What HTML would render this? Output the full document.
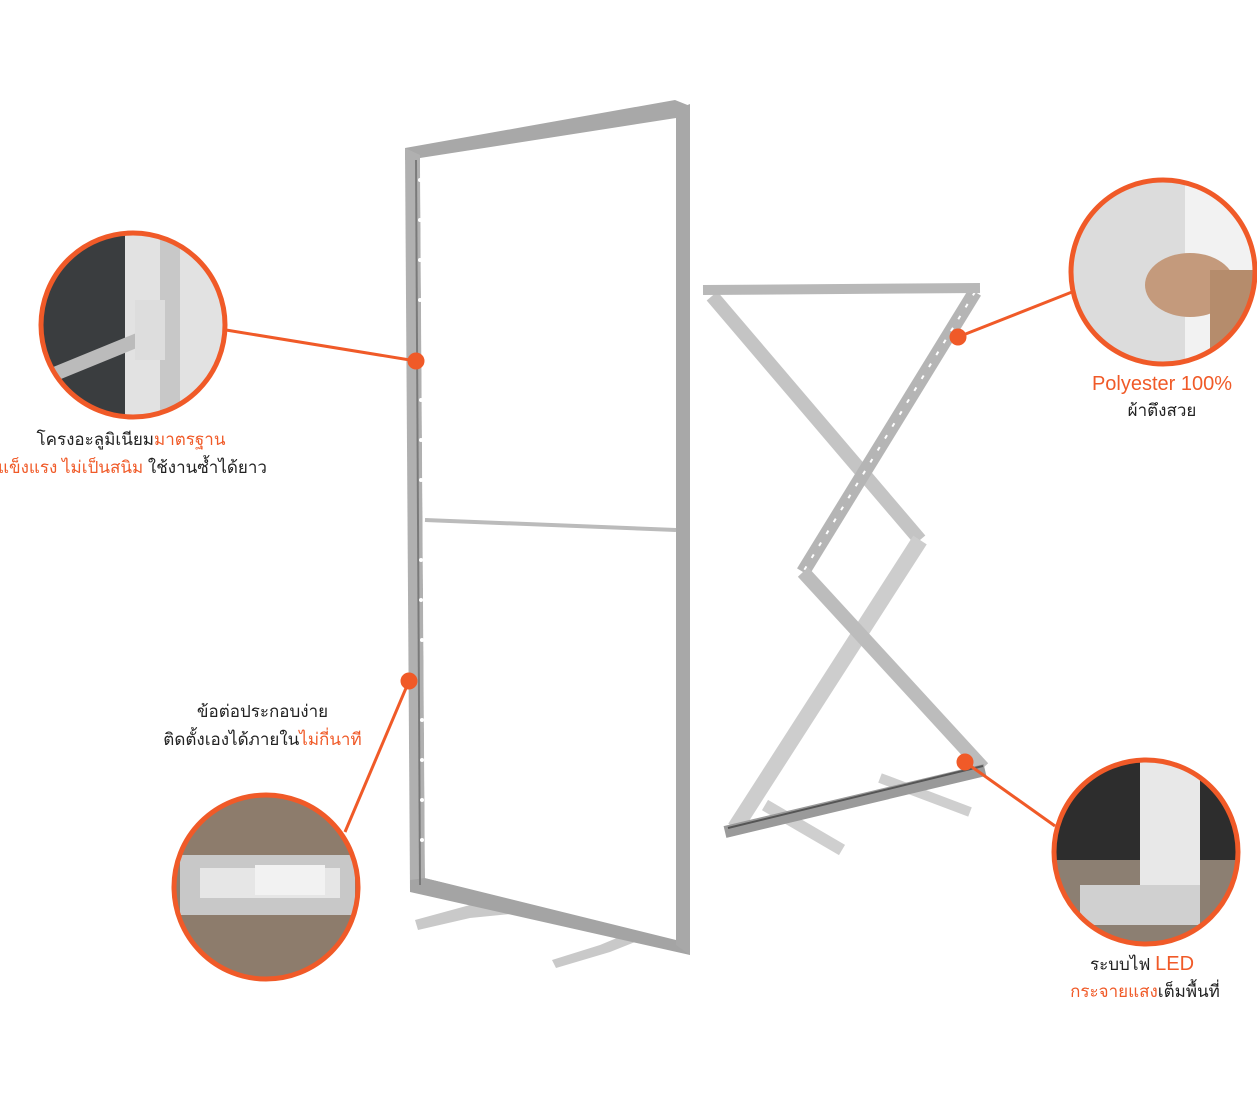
<!DOCTYPE html>
<html><head><meta charset="utf-8"><style>
body{margin:0;background:#fff;width:1257px;height:1095px;overflow:hidden;position:relative;font-family:"Liberation Sans","Noto Sans CJK SC",sans-serif}
.t{position:absolute;font-size:17px;color:#222;white-space:nowrap;text-align:center;line-height:28px}
.o{color:#f05a28}
.e{font-size:20px}
</style></head><body>
<svg width="1257" height="1095" style="position:absolute;left:0;top:0">
<defs>
<clipPath id="c1"><circle cx="133" cy="325" r="92"/></clipPath>
<clipPath id="c2"><circle cx="266" cy="887" r="92"/></clipPath>
<clipPath id="c3"><circle cx="1163" cy="272" r="92"/></clipPath>
<clipPath id="c4"><circle cx="1146" cy="852" r="92"/></clipPath>
</defs>
<polygon points="415,920 470,905 530,900 530,912 470,918 418,930" fill="#c9c9c9"/>
<polygon points="552,960 600,945 665,918 665,930 610,952 556,968" fill="#c9c9c9"/>
<polygon points="405,148 675,100 690,106 690,120 420,160 405,160" fill="#a8a8a8"/>
<polygon points="405,148 420,155 425,880 410,890" fill="#b0b0b0"/>
<polygon points="410,880 425,878 690,940 690,955 410,892" fill="#a4a4a4"/>
<polygon points="675,110 690,104 690,955 676,945" fill="#a8a8a8"/>
<polygon points="420,158 676,118 676,940 425,878" fill="#fff"/>
<line x1="416" y1="160" x2="420" y2="885" stroke="#7a7a7a" stroke-width="2"/>
<line x1="425" y1="520" x2="676" y2="530" stroke="#bbb" stroke-width="4"/>
<g fill="#fff">
<circle cx="420" cy="180" r="2"/><circle cx="420" cy="220" r="2"/><circle cx="420" cy="260" r="2"/><circle cx="420" cy="300" r="2"/><circle cx="421" cy="400" r="2"/><circle cx="421" cy="440" r="2"/><circle cx="421" cy="480" r="2"/><circle cx="421" cy="560" r="2"/><circle cx="421" cy="600" r="2"/><circle cx="422" cy="640" r="2"/><circle cx="422" cy="720" r="2"/><circle cx="422" cy="760" r="2"/><circle cx="422" cy="800" r="2"/><circle cx="422" cy="840" r="2"/></g>
<g stroke-linecap="butt">
<line x1="880" y1="778" x2="970" y2="812" stroke="#cfcfcf" stroke-width="10"/>
<line x1="765" y1="805" x2="842" y2="850" stroke="#cfcfcf" stroke-width="12"/>
<line x1="712" y1="296" x2="920" y2="540" stroke="#c4c4c4" stroke-width="14"/>
<line x1="920" y1="540" x2="735" y2="828" stroke="#cdcdcd" stroke-width="16"/>
<line x1="975" y1="292" x2="803" y2="572" stroke="#b5b5b5" stroke-width="14"/>
<line x1="975" y1="292" x2="803" y2="572" stroke="#fff" stroke-width="2" stroke-dasharray="4 10"/>
<line x1="803" y1="572" x2="983" y2="768" stroke="#bcbcbc" stroke-width="14"/>
<line x1="703" y1="290" x2="980" y2="288" stroke="#b8b8b8" stroke-width="10"/>
<line x1="725" y1="832" x2="985" y2="770" stroke="#9a9a9a" stroke-width="12"/>
<line x1="728" y1="828" x2="983" y2="766" stroke="#555" stroke-width="2"/>
</g>
<g stroke="#f05a28" stroke-width="3" fill="#f05a28">
<line x1="226" y1="330" x2="416" y2="361"/><circle cx="416" cy="361" r="7"/>
<line x1="345" y1="832" x2="409" y2="681"/><circle cx="409" cy="681" r="7"/>
<line x1="1072" y1="292" x2="958" y2="337"/><circle cx="958" cy="337" r="7"/>
<line x1="1055" y1="826" x2="965" y2="762"/><circle cx="965" cy="762" r="7"/>
</g>
<g clip-path="url(#c1)"><rect x="30" y="220" width="210" height="210" fill="#3a3d3f"/>
<rect x="125" y="220" width="110" height="210" fill="#e2e2e2"/><rect x="160" y="220" width="20" height="210" fill="#c8c8c8"/>
<line x1="40" y1="380" x2="150" y2="335" stroke="#bbb" stroke-width="14"/><rect x="135" y="300" width="30" height="60" fill="#ddd"/></g>
<circle cx="133" cy="325" r="92" fill="none" stroke="#f05a28" stroke-width="5"/>
<g clip-path="url(#c2)"><rect x="170" y="790" width="200" height="200" fill="#8d7c6c"/>
<rect x="180" y="855" width="175" height="60" fill="#c8c8c8"/><rect x="200" y="868" width="140" height="30" fill="#e6e6e6"/>
<rect x="255" y="865" width="70" height="30" fill="#f2f2f2"/></g>
<circle cx="266" cy="887" r="92" fill="none" stroke="#f05a28" stroke-width="5"/>
<g clip-path="url(#c3)"><rect x="1065" y="175" width="200" height="200" fill="#dcdcdc"/><rect x="1185" y="175" width="80" height="200" fill="#f2f2f2"/>
<ellipse cx="1190" cy="285" rx="45" ry="32" fill="#c49a7c"/><rect x="1210" y="270" width="60" height="100" fill="#b58c6c"/></g>
<circle cx="1163" cy="272" r="92" fill="none" stroke="#f05a28" stroke-width="5"/>
<g clip-path="url(#c4)"><rect x="1050" y="755" width="200" height="200" fill="#2d2d2d"/><rect x="1050" y="860" width="200" height="95" fill="#8c7f72"/>
<rect x="1140" y="760" width="60" height="130" fill="#e8e8e8"/><rect x="1080" y="885" width="120" height="40" fill="#d0d0d0"/></g>
<circle cx="1146" cy="852" r="92" fill="none" stroke="#f05a28" stroke-width="5"/>
</svg>
<div class="t" style="left:0;width:262px;top:426px">โครงอะลูมิเนียม<span class="o">มาตรฐาน</span></div>
<div class="t" style="left:-5px;width:275px;top:454px"><span class="o">แข็งแรง ไม่เป็นสนิม</span> ใช้งานซ้ำได้ยาว</div>
<div class="t" style="left:160px;width:205px;top:698px">ข้อต่อประกอบง่าย</div>
<div class="t" style="left:150px;width:225px;top:726px">ติดตั้งเองได้ภายใน<span class="o">ไม่กี่นาที</span></div>
<div class="t o e" style="left:1062px;width:200px;top:370px">Polyester 100%</div>
<div class="t" style="left:1062px;width:200px;top:397px">ผ้าตึงสวย</div>
<div class="t" style="left:1042px;width:200px;top:950px">ระบบไฟ <span class="o e">LED</span></div>
<div class="t" style="left:1035px;width:220px;top:978px"><span class="o">กระจายแสง</span>เต็มพื้นที่</div>
</body></html>
